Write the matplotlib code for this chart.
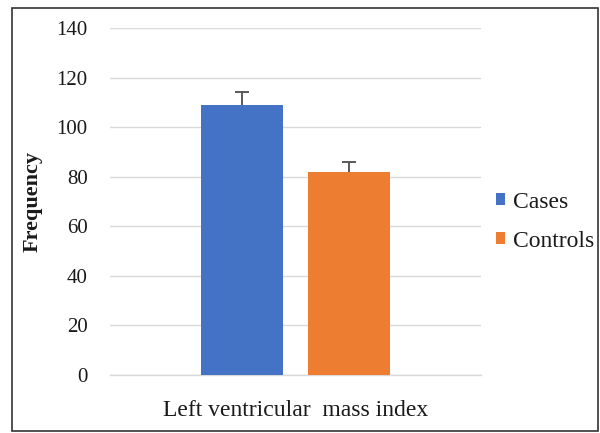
import matplotlib
matplotlib.use("Agg")
import matplotlib.pyplot as plt
from matplotlib.patches import Rectangle

plt.rcParams.update({
    "font.family": "serif",
    "font.serif": ["Liberation Serif", "DejaVu Serif"],
    "font.size": 15,
})

# Data
series = ["Cases", "Controls"]
values = [109, 82]
errors = [5.3, 3.8]
colors = ["#4472C4", "#ED7D31"]
category = "Left ventricular  mass index"
yticks = [0, 20, 40, 60, 80, 100, 120, 140]

GRID = "#D9D9D9"
ERR = "#595959"
TEXT = "#1A1A1A"

fig = plt.figure(figsize=(6.0, 4.33), dpi=100)
ax = fig.add_axes([0.183, 0.134, 0.619, 0.801])

width = 0.22
offsets = [-0.144, 0.144]
for name, v, e, c, off in zip(series, values, errors, colors, offsets):
    ax.bar(off, v, width=width, color=c, label=name, zorder=3)
    eb = ax.errorbar(off, v, yerr=[[0], [e]], fmt="none", ecolor=ERR,
                     elinewidth=1.4, capsize=5, capthick=1.4, zorder=4)
    # Excel "plus" error bar: hide the lower cap
    eb[1][0].set_visible(False)

ax.set_xlim(-0.5, 0.5)
ax.set_ylim(0, 140)
ax.set_yticks(yticks)
ax.set_xticks([])
ax.yaxis.grid(True, color=GRID, lw=1.0, zorder=0)
ax.set_axisbelow(True)
for s in ["top", "right", "left"]:
    ax.spines[s].set_visible(False)
ax.spines["bottom"].set_color(GRID)
ax.spines["bottom"].set_linewidth(1.0)
ax.tick_params(axis="y", length=0, pad=16, labelsize=15, labelcolor=TEXT)

ax.set_xlabel(category, fontsize=17, labelpad=18, color=TEXT)
ax.set_ylabel("Frequency", fontsize=16, fontweight="bold", labelpad=10, color=TEXT)

leg = fig.legend(loc="center left", bbox_to_anchor=(0.826, 0.488), frameon=False,
                 handlelength=0.4, handleheight=0.4, handletextpad=0.35,
                 labelspacing=0.75, fontsize=17, borderpad=0, borderaxespad=0)
for t in leg.get_texts():
    t.set_color(TEXT)

# border round the whole chart
fig.patches.append(Rectangle((0.02, 0.004), 0.976, 0.978, transform=fig.transFigure,
                             fill=False, edgecolor="#333333", lw=1.2))

fig.savefig("out.png", dpi=100)
